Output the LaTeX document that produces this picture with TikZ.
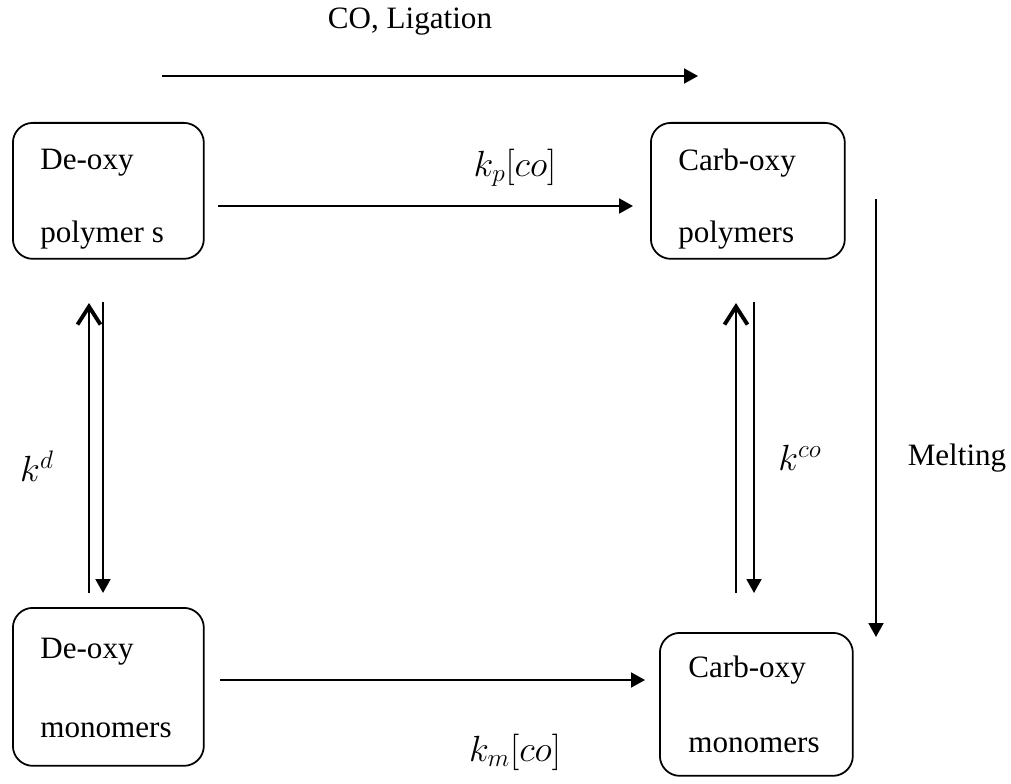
\documentclass[tikz,border=0pt]{standalone}
\usepackage{fontspec}
\setmainfont{Liberation Serif}
\usetikzlibrary{arrows.meta}

\begin{document}
\begin{tikzpicture}[x=0.02cm,y=-0.02cm,>={Triangle[length=0.28cm,width=0.3cm]},
  box/.style={draw,line width=1pt,rounded corners=0.4cm,anchor=north west,inner sep=0pt},
  lbl/.style={anchor=west,inner sep=0pt,font=\fontsize{17.7}{20}\selectfont},
  rate/.style={inner sep=0pt,font=\fontsize{21}{24}\selectfont},
  flow/.style={->,line width=1.1pt},
  back/.style={-{Straight Barb[line width=2.2pt,length=0.36cm,width=0.46cm]},line width=1.1pt}]
  \useasboundingbox (0,0) rectangle (1011,784);
  % boxes
  \node[box,minimum width=3.82cm,minimum height=2.72cm] (dpbox) at (12,122) {};
  \node[box,minimum width=3.88cm,minimum height=2.72cm] (cpbox) at (650,122) {};
  \node[box,minimum width=3.82cm,minimum height=3.16cm] (dmbox) at (12,607) {};
  \node[box,minimum width=3.86cm,minimum height=2.86cm] (cmbox) at (659,632) {};
  \node[lbl] (dp1) at (40,163) {De-oxy}; \node[lbl] (dp2) at (40,235) {polymer s};
  \node[lbl] (cp1) at (678,163) {Carb-oxy}; \node[lbl] (cp2) at (678,235) {polymers};
  \node[lbl] (dm1) at (40,652) {De-oxy}; \node[lbl] (dm2) at (40,730) {monomers};
  \node[lbl] (cm1) at (688,670) {Carb-oxy}; \node[lbl] (cm2) at (688,745) {monomers};
  % arrow ends
  \coordinate (ls) at (162,76); \coordinate (le) at (698,76);
  \coordinate (ps) at (218,206); \coordinate (pe) at (633,206);
  \coordinate (ms) at (220,680); \coordinate (me) at (645,680);
  \coordinate (du1) at (89,593); \coordinate (du2) at (89,303);
  \coordinate (dd1) at (103,302); \coordinate (dd2) at (103,593);
  \coordinate (cu1) at (736,593); \coordinate (cu2) at (736,303);
  \coordinate (cd1) at (754,302); \coordinate (cd2) at (754,593);
  \coordinate (mt1) at (876,199); \coordinate (mt2) at (876,637);
  \draw[flow] (ls) -- (le); \node[lbl,anchor=center] (lig) at (410,22) {CO, Ligation};
  \draw[flow] (ps) -- (pe); \node[rate] (kp) at (515,168) {$k_p[co]$};
  \draw[flow] (ms) -- (me); \node[rate] (km) at (515,752) {$k_m[co]$};
  \draw[back] (du1) -- (du2); \draw[flow] (dd1) -- (dd2); \node[rate] (kd) at (37,466) {$k^d$};
  \draw[back] (cu1) -- (cu2); \draw[flow] (cd1) -- (cd2); \node[rate] (kco) at (800,458) {$k^{co}$};
  \draw[flow] (mt1) -- (mt2); \node[lbl,anchor=center] (melt) at (957,458) {Melting};
\end{tikzpicture}
\end{document}
